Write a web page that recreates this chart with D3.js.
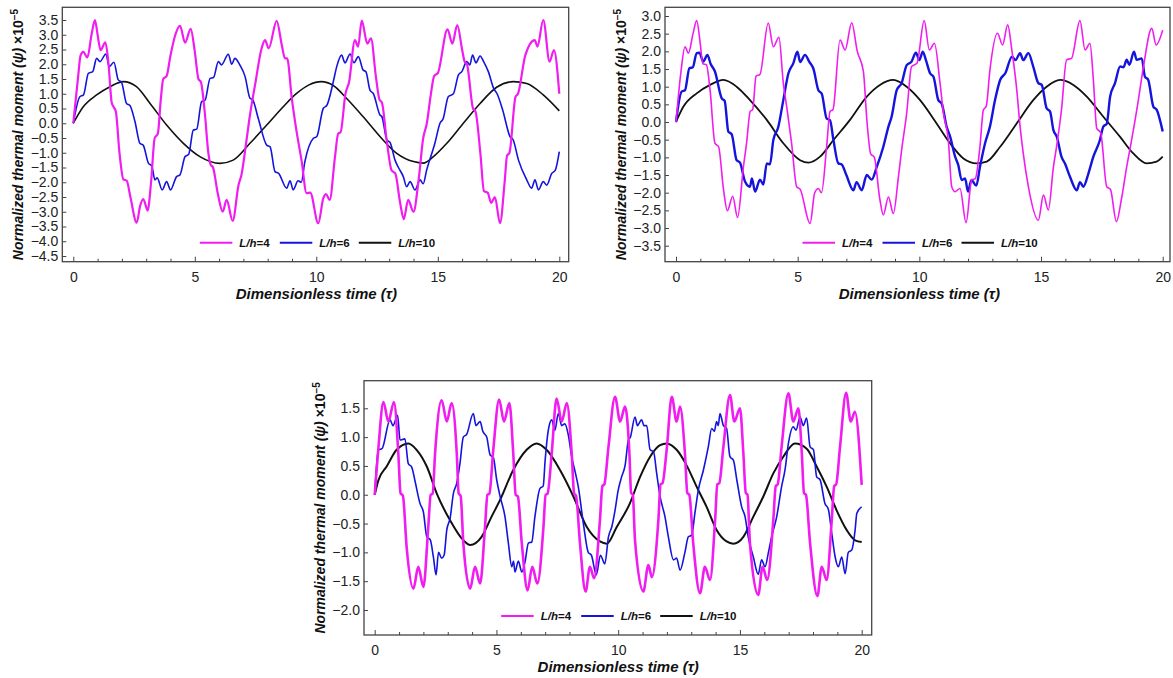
<!DOCTYPE html>
<html>
<head>
<meta charset="utf-8">
<script src="https://cdn.jsdelivr.net/npm/d3@7"></script>
<style>
body { margin: 0; background: #fff; }
svg { display: block; font-family: "Liberation Sans", Arial, sans-serif; }
</style>
</head>
<body>
<svg id="chart" width="1173" height="678"></svg>
<script>
"use strict";

// tick labels
var xTicks = [0, 5, 10, 15, 20],
    xMinor = [0, 1, 2, 3, 4, 5, 6, 7, 8, 9, 10, 11, 12, 13, 14, 15, 16, 17, 18, 19, 20],
    yTicksA = [-4.5, -4, -3.5, -3, -2.5, -2, -1.5, -1, -0.5, 0, 0.5, 1, 1.5, 2, 2.5, 3, 3.5],
    yTicksB = [-3.5, -3, -2.5, -2, -1.5, -1, -0.5, 0, 0.5, 1, 1.5, 2, 2.5, 3],
    yTicksC = [-2, -1.5, -1, -0.5, 0, 0.5, 1, 1.5];

var seriesNames = ["4", "6", "10"];

// panel A (top left) : [tau, psi]
var a4 = [[0,0],[0.2,1.6],[0.3,2.3],[0.41,2.42],[0.58,2.23],[0.75,3.0],[0.89,3.5],[1.0,3.0],[1.12,2.48],[1.32,2.74],[1.45,2.0],[1.58,0.7],[1.66,0.55],[1.75,0.4],[1.9,-1.0],[2.06,-1.9],[2.2,-1.95],[2.35,-2.5],[2.61,-3.37],[2.75,-2.8],[2.88,-2.57],[3.06,-2.96],[3.2,-2.0],[3.35,-0.5],[3.48,-0.35],[3.6,0.8],[3.7,1.5],[3.84,1.6],[4.0,2.3],[4.2,3.0],[4.39,3.3],[4.6,2.73],[4.83,3.2],[5.0,2.43],[5.15,1.5],[5.25,1.4],[5.42,0.28],[5.55,-0.95],[5.65,-1.4],[5.75,-1.5],[5.95,-2.4],[6.15,-3.0],[6.31,-2.6],[6.56,-3.31],[6.8,-2.09],[6.92,-1.75],[7.14,-0.5],[7.27,0.28],[7.48,1.3],[7.75,2.54],[7.89,2.82],[8.04,2.54],[8.37,3.47],[8.58,2.65],[8.71,2.2],[8.8,2.2],[8.99,0.85],[9.16,-0.13],[9.4,-1.3],[9.6,-2.37],[9.75,-2.35],[10.08,-3.39],[10.29,-2.54],[10.4,-2.4],[10.55,-2.6],[10.77,-1.13],[10.9,-0.35],[11.0,-0.3],[11.2,1.0],[11.35,1.4],[11.59,2.82],[11.72,2.6],[11.87,3.48],[12.1,2.7],[12.25,2.88],[12.45,1.6],[12.6,0.8],[12.7,0.7],[12.9,-0.6],[13.1,-1.6],[13.25,-1.7],[13.45,-2.7],[13.6,-3.25],[13.78,-2.6],[14.0,-3.0],[14.2,-2.0],[14.4,-0.5],[14.55,0.0],[14.7,0.9],[14.85,1.6],[15.0,1.7],[15.4,3.18],[15.6,2.7],[15.8,3.33],[16.0,2.5],[16.1,2.1],[16.2,2.0],[16.45,0.5],[16.55,0.4],[16.75,-1.0],[16.9,-2.3],[17.05,-2.35],[17.2,-2.7],[17.35,-2.5],[17.56,-3.39],[17.75,-2.0],[17.85,-1.1],[17.95,-1.0],[18.2,0.9],[18.3,1.0],[18.6,2.3],[18.99,2.82],[19.1,2.6],[19.34,3.5],[19.6,2.09],[19.78,2.48],[20,1.0]];
var a6 = [[0,0],[0.27,0.9],[0.42,0.96],[0.62,1.69],[0.8,1.75],[0.96,2.2],[1.1,2.09],[1.34,2.35],[1.48,1.92],[1.67,2.07],[1.85,1.47],[1.98,1.4],[2.19,0.67],[2.33,0.6],[2.54,0.05],[2.74,-0.68],[2.88,-0.75],[3.09,-1.35],[3.23,-1.45],[3.36,-1.92],[3.45,-1.85],[3.66,-2.26],[3.84,-1.98],[4.0,-2.26],[4.25,-1.81],[4.39,-1.75],[4.6,-1.13],[4.75,-1.05],[4.94,-0.23],[5.08,-0.2],[5.28,0.73],[5.42,0.78],[5.63,1.52],[5.77,1.55],[5.97,2.09],[6.1,1.98],[6.38,2.34],[6.52,2.0],[6.65,2.2],[6.85,1.98],[7.07,1.58],[7.27,0.85],[7.38,0.8],[7.61,0.17],[7.96,-0.74],[8.1,-0.8],[8.3,-1.64],[8.45,-1.7],[8.78,-2.2],[8.92,-1.95],[9.05,-2.26],[9.25,-1.95],[9.38,-2.0],[9.53,-1.3],[9.88,-0.51],[10.02,-0.45],[10.29,0.51],[10.43,0.6],[10.7,1.41],[10.84,1.92],[11.04,2.31],[11.18,2.05],[11.39,2.35],[11.55,2.05],[11.73,2.26],[11.93,1.8],[12.04,1.75],[12.21,1.12],[12.35,1.0],[12.62,0.28],[12.7,0.22],[12.9,-0.56],[13.04,-0.66],[13.24,-1.25],[13.38,-1.5],[13.58,-1.81],[13.72,-2.15],[13.86,-1.98],[14.06,-2.26],[14.27,-1.92],[14.4,-2.05],[14.54,-1.59],[14.88,-0.68],[15.09,0.0],[15.22,0.15],[15.43,0.9],[15.64,1.0],[15.85,1.64],[15.99,1.75],[16.19,2.09],[16.32,1.98],[16.43,2.31],[16.57,2.05],[16.74,2.28],[16.88,2.1],[17.08,1.75],[17.3,1.18],[17.44,1.0],[17.67,0.45],[17.97,-0.45],[18.1,-0.56],[18.32,-1.25],[18.66,-1.92],[18.86,-2.2],[19.0,-1.92],[19.14,-2.26],[19.34,-1.98],[19.48,-2.1],[19.69,-1.7],[19.83,-1.6],[20,-0.96]];
var a10 = [[0,0],[0.41,0.56],[0.96,0.96],[1.51,1.24],[2.06,1.41],[2.6,1.24],[3.16,0.67],[3.84,-0.06],[4.53,-0.68],[5.21,-1.13],[6.04,-1.36],[6.58,-1.25],[7.27,-0.68],[7.96,-0.06],[8.64,0.56],[9.19,1.01],[9.7,1.3],[10.2,1.41],[10.7,1.28],[11.25,0.84],[11.93,0.22],[12.62,-0.45],[13.31,-1.02],[14.0,-1.3],[14.4,-1.35],[14.82,-1.13],[15.37,-0.68],[16.05,0.0],[16.74,0.67],[17.42,1.22],[18.11,1.41],[18.66,1.35],[19.34,0.96],[20,0.42]];

// panel B (top right)
var b4 = [[0,0],[0.2,1.4],[0.37,2.13],[0.51,1.95],[0.7,2.5],[0.85,2.87],[1.0,2.2],[1.1,1.65],[1.25,1.62],[1.4,0.9],[1.6,-0.6],[1.75,-0.7],[1.95,-1.9],[2.11,-2.51],[2.33,-2.1],[2.53,-2.7],[2.77,-1.27],[2.9,-0.6],[3.05,0.3],[3.15,0.35],[3.29,1.3],[3.45,1.35],[3.79,2.8],[4.0,2.13],[4.23,2.4],[4.41,1.1],[4.55,0.43],[4.75,-0.6],[4.96,-1.83],[5.1,-1.9],[5.51,-2.87],[5.7,-2.0],[5.85,-1.88],[5.98,-2.0],[6.19,-0.7],[6.33,0.3],[6.45,0.35],[6.74,2.32],[6.95,2.04],[7.22,2.81],[7.45,2.0],[7.7,1.43],[7.85,0.0],[8.0,-0.9],[8.15,-1.0],[8.38,-2.2],[8.52,-2.63],[8.73,-2.12],[8.93,-2.59],[9.14,-1.55],[9.27,-0.8],[9.48,0.25],[9.68,1.57],[9.9,1.66],[10.2,2.87],[10.41,2.04],[10.62,2.23],[10.85,1.1],[10.99,0.25],[11.19,-0.51],[11.33,-1.83],[11.47,-1.97],[11.67,-1.88],[11.92,-2.85],[12.15,-1.64],[12.3,-1.6],[12.49,-0.7],[12.63,0.34],[12.75,0.45],[12.9,1.47],[13.21,2.51],[13.42,2.18],[13.63,2.75],[13.8,2.04],[13.99,1.0],[14.14,-0.13],[14.27,-0.89],[14.48,-1.83],[14.89,-2.78],[15.1,-2.07],[15.3,-2.49],[15.51,-1.27],[15.65,-0.65],[15.84,0.34],[16.05,1.76],[16.25,1.8],[16.6,2.87],[16.81,2.04],[17.01,2.23],[17.15,1.2],[17.29,-0.18],[17.45,-0.3],[17.7,-1.83],[17.85,-1.9],[18.1,-2.82],[18.3,-2.2],[18.52,-1.27],[18.7,-0.6],[19.0,0.62],[19.21,1.57],[19.55,2.65],[19.73,2.18],[20,2.6]];
var b6 = [[0,0],[0.23,0.86],[0.37,0.9],[0.55,1.52],[0.69,1.55],[0.85,1.95],[0.96,1.96],[1.12,1.71],[1.29,1.9],[1.42,1.65],[1.6,1.43],[1.88,0.67],[2.0,0.6],[2.15,-0.27],[2.29,-0.35],[2.49,-1.08],[2.63,-1.15],[2.84,-1.69],[3.04,-1.83],[3.12,-1.6],[3.25,-1.97],[3.45,-1.63],[3.59,-1.77],[3.73,-1.17],[3.86,-1.2],[4.0,-0.51],[4.2,-0.15],[4.41,0.62],[4.62,1.38],[4.82,1.66],[4.99,1.99],[5.1,1.7],[5.3,1.9],[5.48,1.7],[5.65,1.5],[5.85,0.9],[5.99,0.8],[6.19,0.1],[6.33,0.05],[6.47,-0.51],[6.67,-1.17],[6.81,-1.2],[7.0,-1.5],[7.29,-1.93],[7.42,-1.7],[7.63,-1.93],[7.84,-1.5],[8.04,-1.63],[8.25,-1.27],[8.52,-0.7],[8.73,-0.13],[8.86,0.15],[9.07,0.9],[9.27,1.1],[9.48,1.61],[9.68,1.71],[9.86,1.96],[10.0,1.75],[10.14,1.99],[10.27,1.75],[10.44,1.38],[10.58,1.28],[10.78,0.62],[10.92,0.52],[11.12,-0.13],[11.26,-0.4],[11.47,-0.98],[11.6,-1.22],[11.74,-1.64],[11.88,-1.6],[12.0,-1.97],[12.14,-1.64],[12.34,-1.8],[12.49,-1.27],[12.7,-0.6],[12.9,-0.13],[13.11,0.62],[13.32,1.19],[13.53,1.38],[13.81,1.85],[13.95,1.75],[14.14,1.95],[14.27,1.75],[14.48,1.95],[14.68,1.57],[14.89,1.1],[15.03,1.05],[15.23,0.39],[15.37,0.3],[15.51,-0.23],[15.65,-0.42],[15.84,-0.98],[15.98,-1.17],[16.19,-1.55],[16.47,-1.93],[16.6,-1.7],[16.74,-1.83],[16.95,-1.45],[17.15,-0.98],[17.42,-0.51],[17.56,-0.13],[17.7,-0.05],[17.84,0.72],[18.04,1.1],[18.25,1.57],[18.39,1.55],[18.52,1.76],[18.63,1.62],[18.82,1.99],[18.93,1.76],[19.14,1.8],[19.27,1.28],[19.4,1.2],[19.62,0.43],[19.75,0.35],[20,-0.27]];
var b10 = [[0,0],[0.3,0.43],[0.85,0.81],[1.4,1.05],[1.95,1.19],[2.49,1.0],[3.04,0.62],[3.73,0.06],[4.41,-0.6],[5.1,-1.08],[5.44,-1.15],[5.92,-0.98],[6.47,-0.51],[7.15,0.06],[7.84,0.72],[8.38,1.05],[8.93,1.19],[9.48,1.0],[10.03,0.62],[10.71,-0.04],[11.26,-0.6],[11.81,-1.03],[12.36,-1.17],[12.77,-1.12],[13.32,-0.7],[14.0,-0.04],[14.68,0.62],[15.23,1.0],[15.78,1.19],[16.33,1.05],[16.88,0.72],[17.56,0.15],[18.25,-0.42],[18.79,-0.89],[19.34,-1.17],[19.75,-1.12],[20,-0.98]];

// panel C (bottom)
var c4 = [[0,0],[0.15,0.8],[0.36,1.61],[0.56,1.27],[0.79,1.61],[0.97,0.72],[1.06,0.03],[1.16,-0.02],[1.31,-0.9],[1.59,-1.63],[1.79,-1.25],[2.0,-1.6],[2.2,-0.56],[2.3,0.0],[2.38,0.02],[2.48,0.72],[2.75,1.64],[2.96,1.27],[3.16,1.59],[3.37,0.72],[3.45,0.02],[3.53,-0.02],[3.64,-0.84],[3.92,-1.63],[4.12,-1.25],[4.33,-1.54],[4.53,-0.56],[4.63,0.0],[4.71,0.02],[4.87,0.78],[5.11,1.65],[5.31,1.27],[5.53,1.59],[5.69,0.72],[5.79,0.0],[5.88,-0.03],[6.04,-0.84],[6.28,-1.66],[6.47,-1.25],[6.68,-1.54],[6.93,-0.56],[7.02,0.0],[7.1,0.02],[7.27,0.72],[7.47,1.67],[7.68,1.27],[7.89,1.59],[8.09,0.72],[8.19,0.02],[8.27,-0.02],[8.43,-0.84],[8.66,-1.68],[8.84,-1.25],[9.01,-1.45],[9.25,-0.44],[9.35,0.15],[9.43,0.18],[9.6,0.83],[9.87,1.7],[10.08,1.27],[10.28,1.53],[10.46,0.72],[10.53,0.03],[10.6,0.0],[10.69,-0.79],[11.03,-1.68],[11.24,-1.22],[11.38,-1.43],[11.65,-0.44],[11.74,0.18],[11.82,0.2],[11.99,0.78],[12.2,1.7],[12.4,1.27],[12.54,1.53],[12.74,0.72],[12.84,0.03],[12.92,0.0],[13.08,-0.84],[13.36,-1.71],[13.56,-1.25],[13.77,-1.48],[13.98,-0.44],[14.07,0.18],[14.15,0.2],[14.32,0.83],[14.59,1.73],[14.77,1.27],[15.0,1.5],[15.14,0.72],[15.24,0.03],[15.31,0.0],[15.41,-0.84],[15.75,-1.74],[15.93,-1.25],[16.12,-1.48],[16.37,-0.44],[16.47,0.15],[16.55,0.18],[16.71,0.83],[16.99,1.76],[17.19,1.27],[17.4,1.5],[17.54,0.72],[17.63,0.03],[17.71,0.0],[17.88,-0.84],[18.18,-1.76],[18.36,-1.25],[18.56,-1.48],[18.77,-0.44],[18.87,0.15],[18.95,0.18],[19.11,0.83],[19.36,1.77],[19.55,1.27],[19.72,1.44],[20,0.17]];
var c6 = [[0,0],[0.15,0.78],[0.3,0.8],[0.63,1.3],[0.75,1.2],[0.94,1.38],[1.04,0.95],[1.24,0.97],[1.38,0.54],[1.52,0.48],[1.66,0.23],[1.86,-0.15],[2.0,-0.3],[2.14,-0.73],[2.28,-0.78],[2.41,-1.08],[2.52,-1.39],[2.62,-1.0],[2.75,-1.1],[2.85,-1.05],[2.96,-0.61],[3.1,-0.4],[3.23,0.02],[3.37,0.2],[3.5,0.54],[3.64,1.0],[3.78,1.05],[4.05,1.41],[4.16,1.2],[4.33,1.27],[4.44,1.1],[4.6,1.0],[4.74,0.69],[4.87,0.65],[5.01,0.26],[5.15,-0.03],[5.35,-0.38],[5.49,-0.84],[5.63,-1.25],[5.7,-1.15],[5.76,-1.34],[5.9,-1.15],[6.04,-1.34],[6.18,-1.15],[6.31,-0.84],[6.45,-0.82],[6.58,-0.38],[6.79,0.11],[6.92,0.15],[7.0,0.6],[7.13,1.12],[7.27,1.3],[7.4,1.12],[7.54,1.41],[7.68,1.2],[7.81,1.23],[7.95,1.04],[8.09,0.66],[8.23,0.4],[8.36,0.14],[8.57,-0.5],[8.77,-1.0],[8.9,-1.05],[9.1,-1.39],[9.27,-1.05],[9.45,-1.2],[9.6,-0.73],[9.74,-0.55],[9.87,-0.27],[10.0,0.08],[10.14,0.31],[10.28,0.5],[10.42,0.95],[10.5,1.0],[10.69,1.35],[10.79,1.2],[10.96,1.3],[11.06,1.2],[11.17,1.2],[11.31,0.78],[11.45,0.75],[11.58,0.37],[11.72,-0.03],[11.92,-0.38],[12.06,-0.73],[12.27,-1.13],[12.4,-1.1],[12.54,-1.31],[12.74,-1.0],[12.88,-0.73],[13.02,-0.7],[13.15,-0.32],[13.29,0.08],[13.5,0.43],[13.7,0.83],[13.84,1.15],[13.95,1.1],[14.04,1.27],[14.11,1.2],[14.18,1.41],[14.32,1.2],[14.45,1.15],[14.59,0.66],[14.73,0.6],[14.87,0.26],[15.07,-0.21],[15.21,-0.38],[15.34,-0.73],[15.55,-1.08],[15.75,-1.38],[15.89,-1.13],[16.03,-1.25],[16.17,-1.0],[16.3,-0.73],[16.51,-0.38],[16.71,0.14],[16.85,0.43],[16.99,0.89],[17.19,1.18],[17.3,1.12],[17.47,1.35],[17.6,1.2],[17.74,1.33],[17.88,0.83],[18.02,0.78],[18.15,0.31],[18.29,0.26],[18.49,-0.15],[18.63,-0.25],[18.77,-0.67],[18.91,-1.08],[19.04,-1.25],[19.18,-1.08],[19.32,-1.37],[19.45,-1.0],[19.59,-0.96],[19.73,-0.61],[19.8,-0.32],[20,-0.21]];
var c10 = [[0,0],[0.15,0.25],[0.49,0.49],[0.9,0.78],[1.38,0.89],[1.72,0.78],[2.14,0.49],[2.55,0.02],[3.09,-0.44],[3.64,-0.79],[3.92,-0.87],[4.39,-0.73],[4.8,-0.38],[5.15,-0.09],[5.69,0.43],[6.24,0.78],[6.65,0.89],[7.06,0.78],[7.61,0.43],[8.16,-0.03],[8.71,-0.56],[9.25,-0.81],[9.53,-0.85],[9.94,-0.56],[10.48,-0.15],[10.9,0.31],[11.31,0.66],[11.72,0.86],[11.99,0.89],[12.4,0.78],[12.81,0.51],[13.22,0.14],[13.63,-0.21],[14.04,-0.61],[14.45,-0.81],[14.73,-0.85],[15.14,-0.73],[15.55,-0.38],[15.96,-0.03],[16.37,0.37],[16.78,0.66],[17.26,0.89],[17.74,0.8],[18.15,0.49],[18.56,0.14],[18.97,-0.27],[19.38,-0.61],[19.73,-0.79],[20,-0.82]];

var colors = ["#f01cf0", "#1414dc", "#111111"];

var svg = d3.select("#chart");

var panels = [
    { id: "A", left: 62.3, top: 7.3, right: 568.7, bottom: 261.7, x0: 73.3, x1: 559.3, yb: 256, yt: 20,
      ticks: yTicksA, data: [a4, a6, a10], widths: [2.2, 1.6, 1.6] },
    { id: "B", left: 665, top: 7.3, right: 1170, bottom: 261.7, x0: 676, x1: 1162.7, yb: 245.7, yt: 16,
      ticks: yTicksB, data: [b4, b6, b10], widths: [1.6, 2.4, 1.8] },
    { id: "C", left: 364, top: 380.7, right: 871.7, bottom: 635, x0: 374.7, x1: 861.7, yb: 610, yt: 408.3,
      ticks: yTicksC, data: [c4, c6, c10], widths: [2.6, 1.6, 2.0] }
];

panels.forEach(drawPanel);

function drawPanel(p) {
    var g = svg.append("g").attr("class", "panel");

    var x = d3.scaleLinear().domain([0, 20]).range([p.x0, p.x1]);
    var y = d3.scaleLinear()
        .domain([p.ticks[0], p.ticks[p.ticks.length - 1]])
        .range([p.yb, p.yt]);

    g.append("clipPath")
        .attr("id", "clip" + p.id)
      .append("rect")
        .attr("x", p.left)
        .attr("y", p.top)
        .attr("width", p.right - p.left)
        .attr("height", p.bottom - p.top);

    var line = d3.line()
        .x(function (d) { return x(d[0]); })
        .y(function (d) { return y(d[1]); })
        .curve(d3.curveMonotoneX);

    // draw black first so the coloured curves sit above it
    [2, 1, 0].forEach(function (i) {
        g.append("path")
            .datum(p.data[i])
            .attr("clip-path", "url(#clip" + p.id + ")")
            .attr("d", line)
            .attr("fill", "none")
            .attr("stroke", colors[i])
            .attr("stroke-width", p.widths[i])
            .attr("stroke-linejoin", "round");
    });

    // y axis, ticks pointing inside
    var yAxis = g.append("g")
        .attr("transform", "translate(" + p.left + ",0)")
        .call(d3.axisLeft(y)
            .tickValues(p.ticks)
            .tickSize(-4)
            .tickPadding(4)
            .tickFormat(d3.format(".1f")));
    yAxis.select(".domain").remove();
    yAxis.attr("font-size", 14).attr("font-family", null);
    yAxis.selectAll("line").attr("stroke", "#444");
    yAxis.selectAll("text").attr("fill", "#222");

    // x axis
    var xAxis = g.append("g")
        .attr("transform", "translate(0," + p.bottom + ")")
        .call(d3.axisBottom(x)
            .tickValues(xMinor)
            .tickSize(-3)
            .tickPadding(10)
            .tickFormat(function (d) { return xTicks.indexOf(d) >= 0 ? d : ""; }));
    xAxis.select(".domain").remove();
    xAxis.attr("font-size", 14).attr("font-family", null);
    xAxis.selectAll("line").attr("stroke", "#444");
    xAxis.selectAll(".tick")
        .filter(function (d) { return xTicks.indexOf(d) >= 0; })
        .select("line").attr("y2", -5);
    xAxis.selectAll("text").attr("fill", "#222");

    // frame
    g.append("rect")
        .attr("x", p.left)
        .attr("y", p.top)
        .attr("width", p.right - p.left)
        .attr("height", p.bottom - p.top)
        .attr("fill", "none")
        .attr("stroke", "#444")
        .attr("stroke-width", 1.3);

    // axis titles
    g.append("text")
        .attr("x", (p.x0 + p.x1) / 2)
        .attr("y", p.bottom + 37)
        .attr("text-anchor", "middle")
        .attr("font-size", 15)
        .attr("font-weight", "bold")
        .attr("font-style", "italic")
        .attr("fill", "#111")
        .text("Dimensionless time (τ)");

    var yt = g.append("text")
        .attr("transform", "translate(" + (p.left - 39) + "," + ((p.top + p.bottom) / 2) + ") rotate(-90)")
        .attr("text-anchor", "middle")
        .attr("font-size", 14)
        .attr("font-weight", "bold")
        .attr("font-style", "italic")
        .attr("fill", "#111");
    yt.append("tspan").text("Normalized thermal moment (ψ) ");
    yt.append("tspan").attr("font-style", "normal").text("×10");
    yt.append("tspan").attr("font-style", "normal").attr("font-size", 10).attr("dy", "-0.55em").text("−5");

    // legend
    var leg = g.append("g")
        .attr("transform", "translate(" + (p.x0 + 126.5) + "," + (p.bottom - 19) + ")");
    var offs = [0, 80, 159];
    seriesNames.forEach(function (name, i) {
        var it = leg.append("g").attr("transform", "translate(" + offs[i] + ",0)");
        it.append("line")
            .attr("x1", 0).attr("x2", 32.5)
            .attr("y1", 0).attr("y2", 0)
            .attr("stroke", colors[i])
            .attr("stroke-width", 2);
        var t = it.append("text")
            .attr("x", 39.5)
            .attr("dy", "0.36em")
            .attr("font-size", 11.5)
            .attr("font-weight", "bold")
            .attr("fill", "#111");
        t.append("tspan").attr("font-style", "italic").text("L/h");
        t.append("tspan").text("=" + name);
    });
}
</script>
</body>
</html>
